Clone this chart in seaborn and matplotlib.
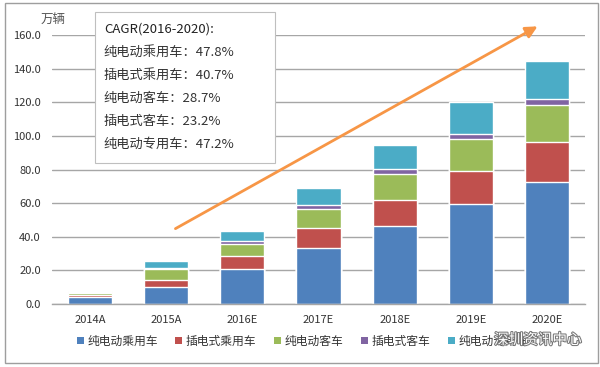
import numpy as np
import matplotlib
matplotlib.use('Agg')
import matplotlib.pyplot as plt
import matplotlib.patheffects as pe
from matplotlib.patches import Patch, Rectangle
import seaborn as sns

years = ['2014A', '2015A', '2016E', '2017E', '2018E', '2019E', '2020E']
series_names = ['纯电动乘用车', '插电式乘用车', '纯电动客车', '插电式客车', '纯电动专用车']
bev_car = [4.0, 10.3, 20.7, 33.6, 46.6, 59.5, 72.6]
phev_car = [1.3, 4.0, 8.0, 11.6, 15.5, 19.9, 23.7]
bev_bus = [1.3, 6.4, 7.1, 11.3, 15.3, 18.5, 21.9]
phev_bus = [0.8, 0.6, 1.4, 2.6, 3.0, 3.4, 4.0]
bev_special = [0.6, 4.0, 6.0, 9.9, 13.9, 19.1, 22.2]
colors = ['#4F81BD', '#C0504D', '#9BBB59', '#8064A2', '#4BACC6']

cagr_title = 'CAGR(2016-2020):'
cagr_values = ['47.8%', '40.7%', '28.7%', '23.2%', '47.2%']

sns.set_style('white')
plt.rcParams['font.family'] = ['Noto Sans CJK SC', 'DejaVu Sans']
text_color = '#333333'

fig = plt.figure(figsize=(6, 3.67), dpi=100)
ax = fig.add_axes([52 / 600, 1 - 304 / 367, 533 / 600, 269 / 367])

stack = np.array([bev_car, phev_car, bev_bus, phev_bus, bev_special])
cum = np.cumsum(stack, axis=0)
# draw tallest first so lower segments sit on top
for i in range(len(series_names) - 1, -1, -1):
    sns.barplot(x=years, y=cum[i], color=colors[i], width=0.58, saturation=1,
                ax=ax, zorder=2)

ax.set_ylim(0, 160)
ax.set_yticks(np.arange(0, 161, 20))
ax.set_yticklabels([f'{v:.1f}' for v in np.arange(0, 161, 20)])
ax.yaxis.grid(True, color='#A6A6A6', linewidth=1, zorder=0)
ax.set_axisbelow(True)
for s in ['top', 'right', 'left']:
    ax.spines[s].set_visible(False)
ax.spines['bottom'].set_color('#A6A6A6')
ax.spines['bottom'].set_linewidth(1)
ax.tick_params(axis='y', length=0, pad=8, labelsize=8, labelcolor=text_color)
ax.tick_params(axis='x', length=0, pad=8, labelsize=8, labelcolor=text_color)
ax.set_xlabel('')
ax.set_ylabel('')

fig.text(41 / 600, 1 - 19 / 367, '万辆', fontsize=9, color='#555555', va='center', ha='left')

# trend arrow
ax.annotate('', xy=(540 / 600, 1 - 25 / 367), xycoords='figure fraction',
            xytext=(173 / 600, 1 - 230 / 367), textcoords='figure fraction',
            arrowprops=dict(arrowstyle='-|>,head_length=0.7,head_width=0.35',
                            color='#F79646', lw=2), zorder=5)

# CAGR box
fig.patches.append(Rectangle((95 / 600, 1 - 163 / 367), 180 / 600, 151 / 367,
                             transform=fig.transFigure, facecolor='white',
                             edgecolor='#BFBFBF', linewidth=0.8, zorder=4))
fig.text(104 / 600, 1 - 29 / 367, cagr_title, fontsize=9.5, color='#222222',
         fontweight='medium', va='center', ha='left', zorder=6)
for k, (name, val) in enumerate(zip(series_names, cagr_values)):
    fig.text(103 / 600, 1 - (52 + 23 * k) / 367, f'{name}：{val}', fontsize=9.5,
             color=text_color, va='center', ha='left', zorder=6)

handles = [Patch(facecolor=c, edgecolor='none') for c in colors]
fig.legend(handles, series_names, loc='center', bbox_to_anchor=(303 / 600, 1 - 341 / 367),
           ncol=5, frameon=False, fontsize=8.5, handlelength=0.6, handleheight=0.6,
           handletextpad=0.3, columnspacing=1.5, labelcolor=text_color)

# watermark (sits over the last legend entry, as in the source image)
fig.text(538 / 600, 1 - 340 / 367, '深圳资讯中心', fontsize=10.5, color='white',
         ha='center', va='center', zorder=7,
         path_effects=[pe.withStroke(linewidth=1.5, foreground='#777777')])

# outer frame
fig.patches.append(Rectangle((5 / 600, 1 - 363 / 367), 593 / 600, 360 / 367,
                             transform=fig.transFigure, facecolor='none',
                             edgecolor='#9E9E9E', linewidth=1, zorder=1))

fig.savefig('out.png', dpi=100)
